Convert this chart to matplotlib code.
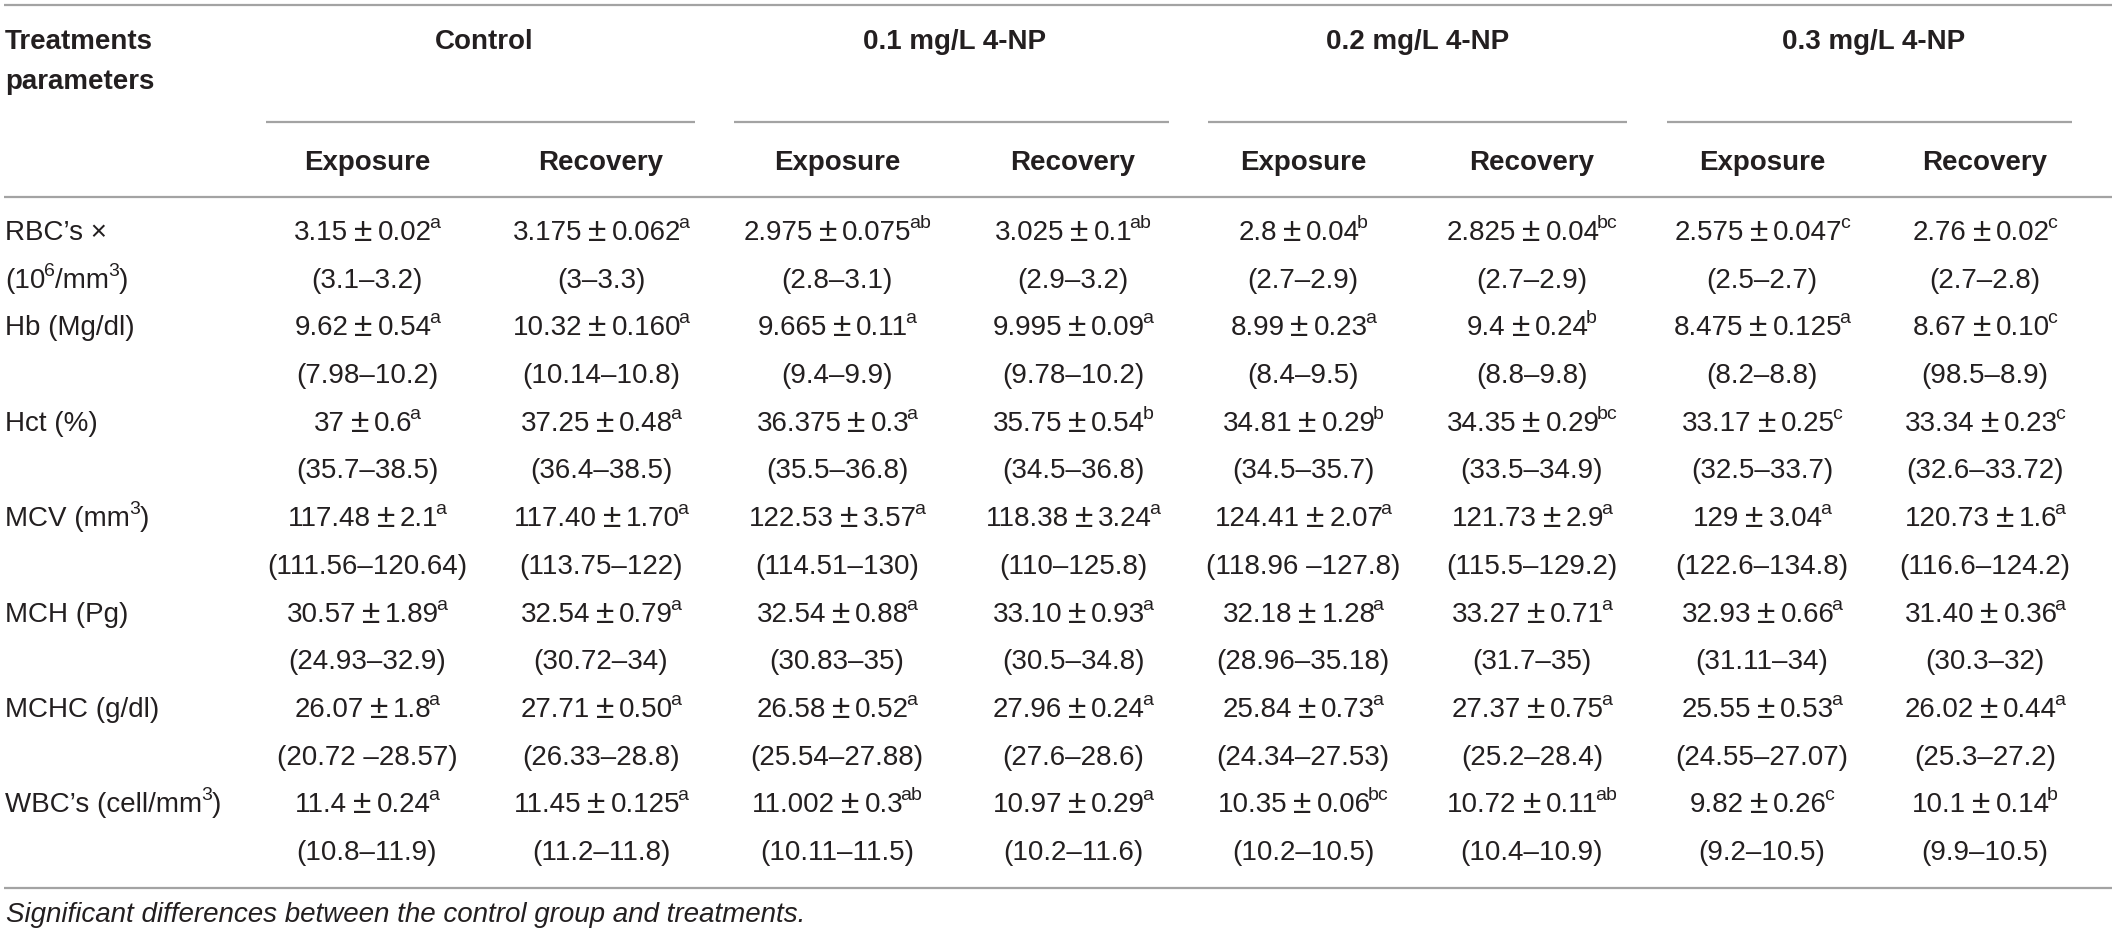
import matplotlib
matplotlib.use("Agg")
import matplotlib.pyplot as plt

groups = ["Control", "0.1 mg/L 4-NP", "0.2 mg/L 4-NP", "0.3 mg/L 4-NP"]
phases = ["Exposure", "Recovery"]

# parameter labels as (text, is_superscript) pieces; second list is the wrapped line
param_labels = [
    ([("RBC’s ×", False)], [("(10", False), ("6", True), ("/mm", False), ("3", True), (")", False)]),
    ([("Hb (Mg/dl)", False)], []),
    ([("Hct (%)", False)], []),
    ([("MCV (mm", False), ("3", True), (")", False)], []),
    ([("MCH (Pg)", False)], []),
    ([("MCHC (g/dl)", False)], []),
    ([("WBC’s (cell/mm", False), ("3", True), (")", False)], []),
]

# columns: Control Exp, Control Rec, 0.1 Exp, 0.1 Rec, 0.2 Exp, 0.2 Rec, 0.3 Exp, 0.3 Rec
means = [
    ["3.15", "3.175", "2.975", "3.025", "2.8", "2.825", "2.575", "2.76"],
    ["9.62", "10.32", "9.665", "9.995", "8.99", "9.4", "8.475", "8.67"],
    ["37", "37.25", "36.375", "35.75", "34.81", "34.35", "33.17", "33.34"],
    ["117.48", "117.40", "122.53", "118.38", "124.41", "121.73", "129", "120.73"],
    ["30.57", "32.54", "32.54", "33.10", "32.18", "33.27", "32.93", "31.40"],
    ["26.07", "27.71", "26.58", "27.96", "25.84", "27.37", "25.55", "26.02"],
    ["11.4", "11.45", "11.002", "10.97", "10.35", "10.72", "9.82", "10.1"],
]
sds = [
    ["0.02", "0.062", "0.075", "0.1", "0.04", "0.04", "0.047", "0.02"],
    ["0.54", "0.160", "0.11", "0.09", "0.23", "0.24", "0.125", "0.10"],
    ["0.6", "0.48", "0.3", "0.54", "0.29", "0.29", "0.25", "0.23"],
    ["2.1", "1.70", "3.57", "3.24", "2.07", "2.9", "3.04", "1.6"],
    ["1.89", "0.79", "0.88", "0.93", "1.28", "0.71", "0.66", "0.36"],
    ["1.8", "0.50", "0.52", "0.24", "0.73", "0.75", "0.53", "0.44"],
    ["0.24", "0.125", "0.3", "0.29", "0.06", "0.11", "0.26", "0.14"],
]
letters = [
    ["a", "a", "ab", "ab", "b", "bc", "c", "c"],
    ["a", "a", "a", "a", "a", "b", "a", "c"],
    ["a", "a", "a", "b", "b", "bc", "c", "c"],
    ["a", "a", "a", "a", "a", "a", "a", "a"],
    ["a", "a", "a", "a", "a", "a", "a", "a"],
    ["a", "a", "a", "a", "a", "a", "a", "a"],
    ["a", "a", "ab", "a", "bc", "ab", "c", "b"],
]
ranges = [
    ["(3.1–3.2)", "(3–3.3)", "(2.8–3.1)", "(2.9–3.2)", "(2.7–2.9)", "(2.7–2.9)", "(2.5–2.7)", "(2.7–2.8)"],
    ["(7.98–10.2)", "(10.14–10.8)", "(9.4–9.9)", "(9.78–10.2)", "(8.4–9.5)", "(8.8–9.8)", "(8.2–8.8)", "(98.5–8.9)"],
    ["(35.7–38.5)", "(36.4–38.5)", "(35.5–36.8)", "(34.5–36.8)", "(34.5–35.7)", "(33.5–34.9)", "(32.5–33.7)", "(32.6–33.72)"],
    ["(111.56–120.64)", "(113.75–122)", "(114.51–130)", "(110–125.8)", "(118.96 –127.8)", "(115.5–129.2)", "(122.6–134.8)", "(116.6–124.2)"],
    ["(24.93–32.9)", "(30.72–34)", "(30.83–35)", "(30.5–34.8)", "(28.96–35.18)", "(31.7–35)", "(31.11–34)", "(30.3–32)"],
    ["(20.72 –28.57)", "(26.33–28.8)", "(25.54–27.88)", "(27.6–28.6)", "(24.34–27.53)", "(25.2–28.4)", "(24.55–27.07)", "(25.3–27.2)"],
    ["(10.8–11.9)", "(11.2–11.8)", "(10.11–11.5)", "(10.2–11.6)", "(10.2–10.5)", "(10.4–10.9)", "(9.2–10.5)", "(9.9–10.5)"],
]
footnote = "Significant differences between the control group and treatments."

W, H = 2117, 933
FONT = "Liberation Sans"
TXT = "#231f20"
RULE = "#a3a3a3"
FS = 20
SUP = 0.7    # superscript size factor
PM = 1.2     # the ± sign is drawn a bit larger, as in the source
col_x = [367, 601, 837, 1073, 1303, 1532, 1762, 1985]
group_spans = [(266, 695), (734, 1169), (1208, 1627), (1667, 2072)]
row_y0, row_step = 233, 47.7

fig = plt.figure(figsize=(W / 100, H / 100), dpi=100)
ax = fig.add_axes([0, 0, 1, 1])
ax.set_xlim(0, W)
ax.set_ylim(H, 0)
ax.axis("off")
renderer = fig.canvas.get_renderer()


def width_of(s, size, weight="normal"):
    t = ax.text(0, 0, s, fontsize=size, family=FONT, weight=weight)
    w = t.get_window_extent(renderer).width
    t.remove()
    return w


def rich(x, y, pieces, ha="center", size=FS, weight="normal", sup_pull=-3):
    # pieces: (text, kind) with kind "" normal, "sup" superscript, "pm" enlarged sign,
    # or a number meaning blank pixels
    sizes = {"": size, "sup": size * SUP, "pm": size * PM}
    shift = {"": 0, "sup": -12, "pm": 1}
    pull = {"": 0, "sup": sup_pull, "pm": 0}
    widths = []
    for p in pieces:
        if isinstance(p, (int, float)):
            widths.append(p)
        else:
            widths.append(width_of(p[0], sizes[p[1]], weight) + pull[p[1]])
    total = sum(widths)
    x0 = x - total / 2 if ha == "center" else x
    base = y + 7
    for p, w in zip(pieces, widths):
        if not isinstance(p, (int, float)):
            s, kind = p
            ax.text(x0 + pull[kind], base + shift[kind], s, fontsize=sizes[kind],
                    family=FONT, weight=weight, color=TXT, ha="left", va="baseline")
        x0 += w


def rule(x0, x1, y):
    ax.plot([x0, x1], [y, y], color=RULE, lw=1.6, solid_capstyle="butt")


# header
rule(4, 2112, 5)
ax.text(5, 42, "Treatments", fontsize=FS, family=FONT, weight="bold", color=TXT, va="center")
ax.text(5, 82, "parameters", fontsize=FS, family=FONT, weight="bold", color=TXT, va="center")
for g, (x0, x1) in enumerate(group_spans):
    cx = (col_x[2 * g] + col_x[2 * g + 1]) / 2
    ax.text(cx, 42, groups[g], fontsize=FS, family=FONT, weight="bold", color=TXT,
            ha="center", va="center")
    rule(x0, x1, 122)
for c, x in enumerate(col_x):
    ax.text(x, 163, phases[c % 2], fontsize=FS, family=FONT, weight="bold", color=TXT,
            ha="center", va="center")
rule(4, 2112, 197)

# body
for r in range(len(means)):
    y1 = row_y0 + 2 * r * row_step
    y2 = y1 + row_step
    first, second = param_labels[r]
    first = [(s, "sup" if sup else "") for s, sup in first]
    second = [(s, "sup" if sup else "") for s, sup in second]
    rich(5, y1, first, ha="left", sup_pull=-1)
    if second:
        rich(5, y2, second, ha="left", sup_pull=-1)
    for c, x in enumerate(col_x):
        rich(x, y1, [(means[r][c], ""), 6, ("±", "pm"), 5,
                     (sds[r][c], ""), (letters[r][c], "sup")])
        rich(x, y2, [(ranges[r][c], "")])

rule(4, 2112, 888)
ax.text(6, 915, footnote, fontsize=FS, family=FONT, style="italic", color=TXT, va="center")

fig.savefig("out.png", dpi=100)
